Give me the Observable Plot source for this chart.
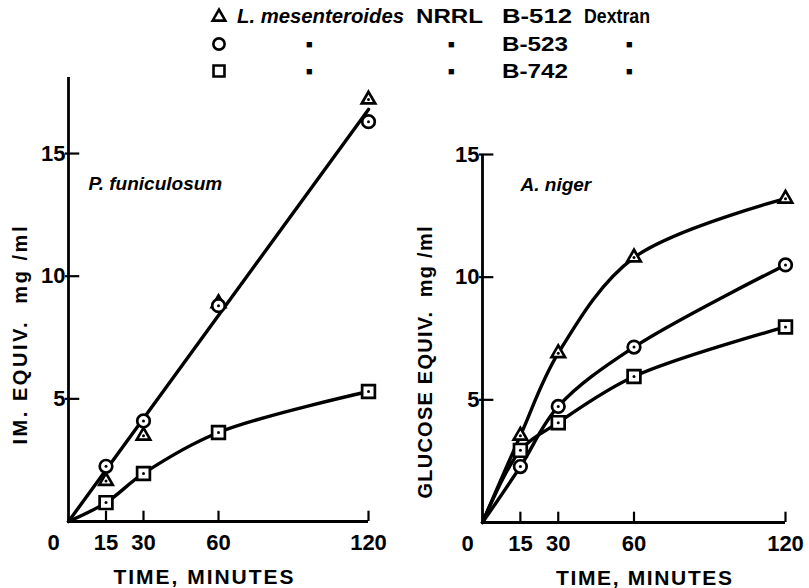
<!DOCTYPE html>
<html><head><meta charset="utf-8">
<script src="https://cdn.jsdelivr.net/npm/d3@7"></script>
<script src="https://cdn.jsdelivr.net/npm/@observablehq/plot@0.6"></script>
<style>
body{margin:0;background:#fff;}
#wrap{position:relative;width:809px;height:588px;overflow:hidden;background:#fff;font-family:"Liberation Sans",Arial,sans-serif;font-weight:bold;}
#left,#right,#legend{position:absolute;top:0;}
#left{left:0}
#right{left:404px}
#legend{left:0}
</style></head><body>
<div id="wrap"><div id="left"></div><div id="right"></div><svg id="legend" width="809" height="90"></svg></div>
<script>
// ---- data ----
const times = [15, 30, 60, 120];
const strains = ["B-512", "B-523", "B-742"];
const symbolNames = ["triangle", "circle", "square"];
// P. funiculosum (left), IM. equiv. mg/ml
const leftB512 = [1.65, 3.5, 8.9, 17.2];
const leftB523 = [2.25, 4.1, 8.8, 16.3];
const leftB742 = [0.77, 1.96, 3.63, 5.3];
const leftFitTime = [0, 120];
const leftFitValue = [0, 16.8];
// A. niger (right), glucose equiv. mg/ml
const rightB512 = [3.54, 6.9, 10.8, 13.2];
const rightB523 = [2.28, 4.73, 7.15, 10.5];
const rightB742 = [2.94, 4.07, 5.95, 7.97];
const xTickValues = [15, 30, 60, 120];
const yTickValues = [5, 10, 15];
const legendSpecies = "L. mesenteroides";
const legendCollection = "NRRL";
const legendProduct = "Dextran";
const dittoMark = "\u25A0";

// ---- helpers ----
const symR = {triangle: 5, circle: 6.3, square: 7.2};
function pts(values, strain) {
  return times.map((t, i) => ({time: t, value: values[i], strain}));
}
function curve(values, strain) {
  return [{time: 0, value: 0, strain}, ...pts(values, strain)];
}
const FONT = "Liberation Sans, Arial, sans-serif";

function panel(opts) {
  const marks = [
    Plot.ruleX([0], {stroke: "#000", strokeWidth: 2.8}),
    Plot.ruleY([0], {stroke: "#000", strokeWidth: 2.8}),
    Plot.ruleX(xTickValues, {x: d => d, y1: 0, y2: opts.tickLenY, stroke: "#000", strokeWidth: 2.2}),
    Plot.ruleY(yTickValues.filter(v => v <= opts.yMax), {y: d => d, x1: -1.2, x2: 4.5, stroke: "#000", strokeWidth: 2.2}),
    Plot.axisX(xTickValues, {anchor: "bottom", tickSize: 0, tickPadding: 13, label: null, fontSize: 22}),
    Plot.axisX([0], {anchor: "bottom", tickSize: 0, tickPadding: 13, label: null, dx: -15, fontSize: 22}),
    Plot.axisY(yTickValues.filter(v => v <= opts.yMax), {anchor: "left", tickSize: 0, tickPadding: 3, label: null, fontSize: 22}),
    Plot.text(["TIME, MINUTES"], {frameAnchor: "bottom", textAnchor: "middle", lineAnchor: "middle", dx: opts.xLabelDx, dy: 56, fontSize: 21, fontWeight: "bold", text: d => d}),
    Plot.text([opts.yLabel], {frameAnchor: "left", textAnchor: "middle", lineAnchor: "middle", rotate: -90, dx: opts.yLabelDx, dy: opts.yLabelDy, fontSize: 20, fontWeight: "bold", text: d => d}),
    Plot.text([opts.title], {frameAnchor: "top-left", textAnchor: "start", lineAnchor: "middle", dx: opts.titleDx, dy: opts.titleDy, fontSize: 19, fontWeight: "bold", fontStyle: "italic", text: d => d})
  ];
  for (const c of opts.lines) {
    marks.push(Plot.line(c.data, {x: "time", y: "value", curve: c.curve, stroke: "#000", strokeWidth: 3.4}));
  }
  for (const s of opts.series) {
    marks.push(Plot.dot(s.data, {x: "time", y: "value", symbol: s.symbol, r: symR[s.symbol], fill: "#fff", stroke: "#000", strokeWidth: 2.7}));
    marks.push(Plot.dot(s.data, {x: "time", y: "value", r: 1.5, fill: "#000"}));
  }
  const svg = Plot.plot({
    width: 405, height: 588,
    marginLeft: opts.marginLeft, marginRight: opts.marginRight,
    marginTop: opts.marginTop, marginBottom: opts.marginBottom,
    style: {fontFamily: FONT, fontWeight: "bold", background: "transparent", color: "#000"},
    x: {domain: [0, 120], axis: null},
    y: {domain: [0, opts.yMax], axis: null},
    marks
  });
  // tick labels: enforce the large hand-lettered size
  d3.select(svg).selectAll('g[aria-label$="tick label"]')
    .attr("font-size", 22).style("font-size", "22px").attr("font-weight", "bold");
  // stretch the hand-lettered labels to the widths seen in the figure
  d3.select(svg).selectAll("text").each(function () {
    const t = this.textContent;
    if (opts.fitWidths[t]) {
      this.setAttribute("textLength", opts.fitWidths[t]);
      this.setAttribute("lengthAdjust", "spacing");
    }
  });
  return svg;
}

const left = panel({
  marginLeft: 68, marginRight: 37, marginTop: 77, marginBottom: 67,
  yMax: 18.1, tickLenY: 0.42,
  xLabelDx: -15, yLabel: "IM. EQUIV.  mg /ml", yLabelDx: -48, yLabelDy: 36,
  title: "P. funiculosum", titleDx: 20, titleDy: 106,
  fitWidths: {"TIME, MINUTES": 180, "IM. EQUIV.  mg /ml": 218},
  lines: [
    {data: leftFitTime.map((t, i) => ({time: t, value: leftFitValue[i]})), curve: "linear"},
    {data: curve(leftB742, "B-742"), curve: "catmull-rom"}
  ],
  series: [
    {data: pts(leftB512, "B-512"), symbol: "triangle"},
    {data: pts(leftB523, "B-523"), symbol: "circle"},
    {data: pts(leftB742, "B-742"), symbol: "square"}
  ]
});
document.getElementById("left").append(left);

const right = panel({
  marginLeft: 78, marginRight: 24, marginTop: 154, marginBottom: 66,
  yMax: 15, tickLenY: 0.42,
  xLabelDx: 10, yLabel: "GLUCOSE EQUIV.  mg /ml", yLabelDx: -57, yLabelDy: 24,
  title: "A. niger", titleDx: 38, titleDy: 30,
  fitWidths: {"TIME, MINUTES": 176, "GLUCOSE EQUIV.  mg /ml": 272},
  lines: [
    {data: curve(rightB512, "B-512"), curve: "catmull-rom"},
    {data: curve(rightB523, "B-523"), curve: "catmull-rom"},
    {data: curve(rightB742, "B-742"), curve: "catmull-rom"}
  ],
  series: [
    {data: pts(rightB512, "B-512"), symbol: "triangle"},
    {data: pts(rightB523, "B-523"), symbol: "circle"},
    {data: pts(rightB742, "B-742"), symbol: "square"}
  ]
});
document.getElementById("right").append(right);

// legend
const lg = d3.select("#legend").style("font-family", FONT).style("font-weight", "bold");
const rowY = [16, 44, 71];
const symMap = {triangle: d3.symbolTriangle, circle: d3.symbolCircle, square: d3.symbolSquare};
const symSize = {triangle: 70, circle: 100, square: 120};
strains.forEach((s, i) => {
  const y = rowY[i];
  const sym = symbolNames[i];
  lg.append("path").attr("d", d3.symbol(symMap[sym], symSize[sym])())
    .attr("transform", `translate(219,${y + (sym === "triangle" ? 1 : 0)})`)
    .attr("fill", "none").attr("stroke", "#000").attr("stroke-width", 2.6);
  const txt = (x, t, len, extra) => {
    const el = lg.append("text").attr("x", x).attr("y", y).attr("dy", "0.36em")
      .attr("font-size", 20).text(t);
    if (extra) extra(el);
    if (len) el.attr("textLength", len).attr("lengthAdjust", "spacingAndGlyphs");
    return el;
  };
  if (i === 0) {
    txt(237, legendSpecies, 167, el => el.attr("font-style", "italic"));
    txt(416, legendCollection, 67);
    txt(502, s, 70);
    txt(584, legendProduct, 66);
  } else {
    txt(306, dittoMark, null, el => el.attr("font-size", 11).attr("dy", "0.4em"));
    txt(448, dittoMark, null, el => el.attr("font-size", 11).attr("dy", "0.4em"));
    txt(502, s, 66);
    txt(626, dittoMark, null, el => el.attr("font-size", 11).attr("dy", "0.4em"));
  }
});
</script>
</body></html>
